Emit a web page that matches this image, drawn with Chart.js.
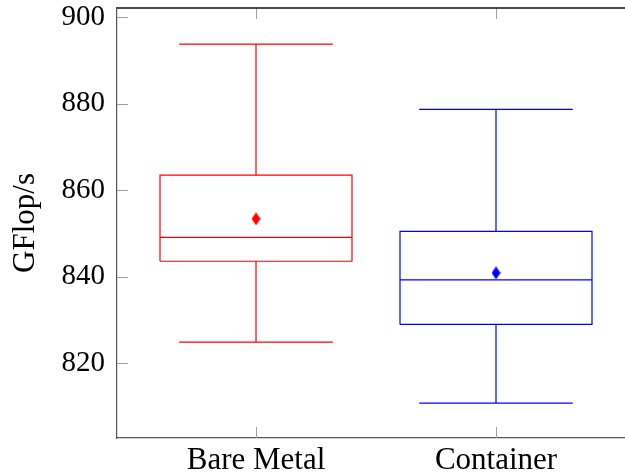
<!DOCTYPE html>
<html><head><meta charset="utf-8">
<script src="https://cdn.jsdelivr.net/npm/chart.js@4/dist/chart.umd.min.js"></script>
<style>html,body{margin:0;padding:0;background:#fff;overflow:hidden}</style>
</head><body>
<canvas id="c" width="625" height="476"></canvas>
<script>
// ---- data ----
const categories   = ['Bare Metal', 'Container'];
const positions    = [1, 2];
const whiskerLow   = [824.9, 810.8];
const q1           = [843.6, 829.0];
const median       = [849.1, 839.3];
const q3           = [863.5, 850.5];
const whiskerHigh  = [893.8, 878.7];
const means        = [853.4, 840.9];
const yTicks       = [820, 840, 860, 880, 900];
const colors       = ['#ff0000', '#0000ff'];

// ---- styling ----
const FONT = '"Liberation Serif", "Times New Roman", serif';
const FS = 29;
const FS_WIDE = 31;
const BOX_HALF = 0.4;
const CAP_HALF = 0.32;

function diamond(color) {
  const c = document.createElement('canvas');
  c.width = 9; c.height = 13;
  const g = c.getContext('2d');
  g.fillStyle = color;
  g.beginPath();
  g.moveTo(4.5, 0); g.lineTo(9, 6.5); g.lineTo(4.5, 13); g.lineTo(0, 6.5); g.closePath();
  g.fill();
  return c;
}
function line(pts, col) {
  return { data: pts, showLine: true, borderColor: col, backgroundColor: col,
           borderWidth: 1.2, pointRadius: 0, pointHoverRadius: 0, fill: false,
           tension: 0, borderJoinStyle: 'miter', borderCapStyle: 'butt' };
}
const datasets = [];
categories.forEach((c, i) => {
  const p = positions[i], col = colors[i];
  const L = p - BOX_HALF, R = p + BOX_HALF;
  datasets.push(line([{x:L,y:q1[i]},{x:R,y:q1[i]},{x:R,y:q3[i]},{x:L,y:q3[i]},{x:L,y:q1[i]}], col));
  datasets.push(line([{x:L,y:median[i]},{x:R,y:median[i]}], col));
  datasets.push(line([{x:p,y:q3[i]},{x:p,y:whiskerHigh[i]}], col));
  datasets.push(line([{x:p,y:q1[i]},{x:p,y:whiskerLow[i]}], col));
  datasets.push(line([{x:p-CAP_HALF,y:whiskerHigh[i]},{x:p+CAP_HALF,y:whiskerHigh[i]}], col));
  datasets.push(line([{x:p-CAP_HALF,y:whiskerLow[i]},{x:p+CAP_HALF,y:whiskerLow[i]}], col));
  datasets.push({ data: [{x:p, y:means[i]}], showLine: false, pointStyle: diamond(col),
                  pointRadius: 5, pointHoverRadius: 5, borderWidth: 0 });
});

const frame = {
  id: 'frame',
  afterDraw(chart) {
    const { ctx, chartArea: a, scales } = chart;
    ctx.save();
    ctx.strokeStyle = '#a0a0a0';
    ctx.lineWidth = 1;
    ctx.beginPath();
    yTicks.forEach(v => {
      const y = Math.round(scales.y.getPixelForValue(v)) + 0.5;
      ctx.moveTo(a.left, y); ctx.lineTo(a.left + 11, y);
    });
    positions.forEach(v => {
      const x = Math.round(scales.x.getPixelForValue(v)) + 0.5;
      ctx.moveTo(x, a.bottom); ctx.lineTo(x, a.bottom - 11);
      ctx.moveTo(x, a.top); ctx.lineTo(x, a.top + 11);
    });
    ctx.stroke();
    ctx.strokeStyle = '#111';
    ctx.lineWidth = 1.4;
    ctx.beginPath();
    ctx.moveTo(a.left, a.top); ctx.lineTo(a.right, a.top);
    ctx.stroke();
    ctx.restore();
  }
};

new Chart(document.getElementById('c'), {
  type: 'scatter',
  data: { datasets },
  plugins: [frame],
  options: {
    responsive: false,
    animation: false,
    devicePixelRatio: 1,
    layout: { autoPadding: false, padding: { top: 8, left: 0, right: 0, bottom: 0 } },
    plugins: { legend: { display: false }, tooltip: { enabled: false } },
    scales: {
      x: {
        type: 'linear', min: 0.4208, max: 2.5375,
        afterFit: s => { s.height = 38; s.paddingLeft = 0; s.paddingRight = 0; },
        afterBuildTicks: s => { s.ticks = positions.map(v => ({ value: v })); },
        grid: { drawOnChartArea: false, drawTicks: false },
        border: { color: '#555', width: 1.2 },
        ticks: { padding: 4, color: '#000', font: { family: FONT, size: FS_WIDE },
                 maxRotation: 0, autoSkip: false,
                 callback: v => categories[positions.indexOf(v)] }
      },
      y: {
        type: 'linear', min: 802.73, max: 902.15,
        afterFit: s => { s.width = 117; s.paddingTop = 0; s.paddingBottom = 0; },
        afterBuildTicks: s => { s.ticks = yTicks.map(v => ({ value: v })); },
        grid: { drawOnChartArea: false, drawTicks: false },
        border: { color: '#555', width: 1.2 },
        ticks: { padding: 12, color: '#000', font: { family: FONT, size: FS } },
        title: { display: true, text: 'GFlop/s', color: '#000',
                 font: { family: FONT, size: FS_WIDE }, padding: { top: 7, bottom: 0 } }
      }
    }
  }
});
</script>
</body></html>
